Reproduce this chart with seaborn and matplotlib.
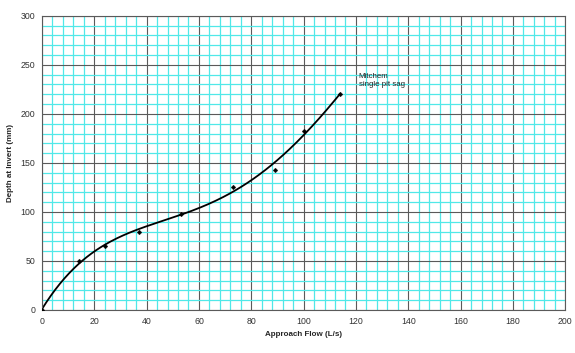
import numpy as np
import seaborn as sns
import matplotlib.pyplot as plt
from matplotlib.ticker import MultipleLocator

# valores
flow = np.array([0, 14, 24, 37, 53, 73, 89, 100, 114])
depth = np.array([0, 50, 65, 80, 98, 125, 143, 183, 220])
label_txt = "Mitchem\nsingle pit sag"

sns.set_style("white")
plt.rcParams['font.family'] = ['Liberation Sans', 'DejaVu Sans']

fig = plt.figure(figsize=(5.75, 3.53), dpi=100)
ax = fig.add_axes([0.073, 0.122, 0.910, 0.833])

# tendencia polinomica de orden 4 (como Excel)
coef = np.polyfit(flow, depth, 4)
xs = np.linspace(0, flow.max(), 200)
sns.lineplot(x=xs, y=np.polyval(coef, xs), color='black', lw=1.3, ax=ax)
sns.scatterplot(x=flow, y=depth, marker='D', s=6, color='black', edgecolor='black', ax=ax, zorder=5)

ax.set_xlim(0, 200)
ax.set_ylim(0, 300)
ax.xaxis.set_major_locator(MultipleLocator(20))
ax.xaxis.set_minor_locator(MultipleLocator(4))
ax.yaxis.set_major_locator(MultipleLocator(50))
ax.yaxis.set_minor_locator(MultipleLocator(10))
ax.grid(which='minor', color='#50e8e8', lw=0.9)
ax.grid(which='major', color='#5a5a5a', lw=0.8)
ax.set_axisbelow(True)
ax.tick_params(which='major', length=3, labelsize=6.3, color='#5a5a5a', labelcolor='#333333', pad=2)
ax.tick_params(which='minor', length=0)
for s in ax.spines.values():
    s.set_color('#5a5a5a')
    s.set_linewidth(0.8)

ax.set_xlabel('Approach Flow (L/s)', fontsize=5.8, fontweight='bold', labelpad=4)
ax.set_ylabel('Depth at Invert (mm)', fontsize=5.8, fontweight='bold')
ax.yaxis.set_label_coords(-0.054, 0.5)
ax.text(121, 242, label_txt, fontsize=5.7, va='top', ha='left', color='#222222')

plt.savefig('out.png', dpi=100)
plt.close()
